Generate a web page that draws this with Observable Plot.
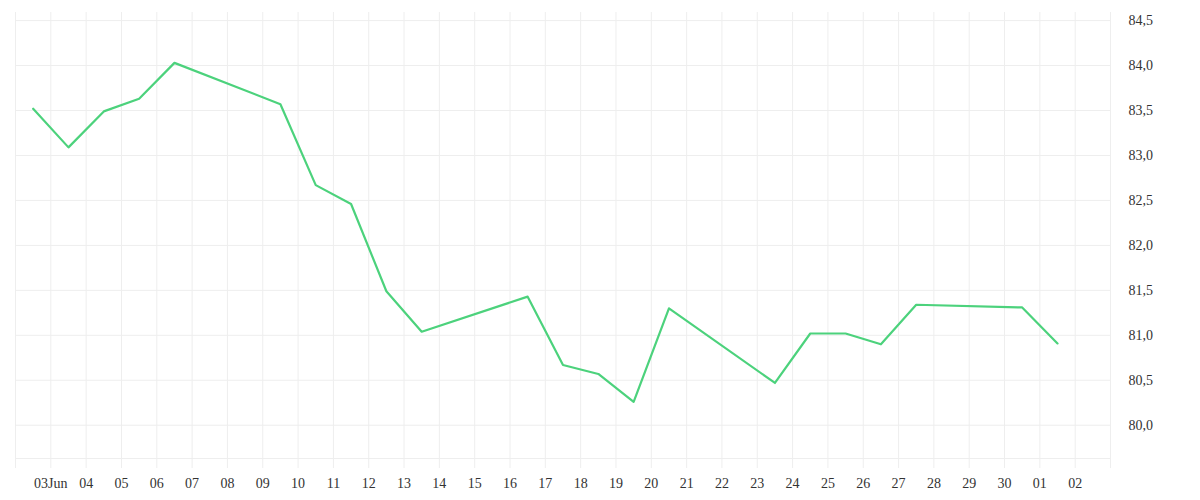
<!DOCTYPE html>
<html>
<head>
<meta charset="utf-8">
<script src="https://cdn.jsdelivr.net/npm/d3@7"></script>
<script src="https://cdn.jsdelivr.net/npm/@observablehq/plot@0.6"></script>
<style>
  html, body { margin: 0; padding: 0; background: #fff; }
  #chart svg { display: block; }
</style>
</head>
<body>
<div id="chart"></div>
<script>
const dates = ["2025-06-02","2025-06-03","2025-06-04","2025-06-05","2025-06-06",
  "2025-06-09","2025-06-10","2025-06-11","2025-06-12","2025-06-13",
  "2025-06-16","2025-06-17","2025-06-18","2025-06-19","2025-06-20",
  "2025-06-23","2025-06-24","2025-06-25","2025-06-26","2025-06-27",
  "2025-06-30","2025-07-01"];
const values = [83.52, 83.09, 83.49, 83.63, 84.03,
  83.57, 82.67, 82.46, 81.49, 81.04,
  81.43, 80.67, 80.57, 80.26, 81.30,
  80.47, 81.02, 81.02, 80.90, 81.34,
  81.31, 80.91];
const xTickLabels = ["03Jun","04","05","06","07","08","09","10","11","12","13","14","15","16",
  "17","18","19","20","21","22","23","24","25","26","27","28","29","30","01","02"];
const yTicks = [80.0, 80.5, 81.0, 81.5, 82.0, 82.5, 83.0, 83.5, 84.0, 84.5];
const xStart = "2025-06-02", xEnd = "2025-07-03", firstLabel = "2025-06-03";
const yDomain = [79.63, 84.59];

const data = dates.map((d, i) => ({date: new Date(d + "T12:00:00Z"), value: values[i]}));
const x0 = new Date(xStart + "T00:00:00Z"), x1 = new Date(xEnd + "T00:00:00Z");
const allDays = d3.utcDay.range(x0, d3.utcDay.offset(x1, 1));
const labelStart = new Date(firstLabel + "T00:00:00Z");
const labelFor = d => {
  const i = d3.utcDay.count(labelStart, d);
  return (i >= 0 && i < xTickLabels.length) ? xTickLabels[i] : "";
};
const grid = "#eeeeee";

const chart = Plot.plot({
  width: 1200,
  height: 500,
  marginLeft: 15,
  marginRight: 90,
  marginTop: 12,
  marginBottom: 42,
  style: {fontFamily: "'Liberation Serif', serif", fontSize: "14px", color: "#333", background: "#fff"},
  x: {type: "utc", domain: [x0, x1]},
  y: {domain: yDomain},
  marks: [
    Plot.gridX(allDays, {stroke: grid, strokeOpacity: 1, strokeWidth: 1}),
    Plot.gridY(yTicks, {stroke: grid, strokeOpacity: 1, strokeWidth: 1}),
    Plot.ruleY([yDomain[0]], {stroke: grid, strokeWidth: 1}),
    Plot.axisX(allDays, {tickFormat: labelFor, tickSize: 10, tickPadding: 10, stroke: grid, strokeOpacity: 1, fill: "#333", label: null}),
    Plot.axisY(yTicks, {anchor: "right", tickSize: 0, tickPadding: 18, tickFormat: d => d.toFixed(1).replace(".", ","), fill: "#333", label: null}),
    Plot.line(data, {x: "date", y: "value", stroke: "#4cd27c", strokeWidth: 2.2})
  ]
});
document.getElementById("chart").append(chart);
</script>
</body>
</html>
